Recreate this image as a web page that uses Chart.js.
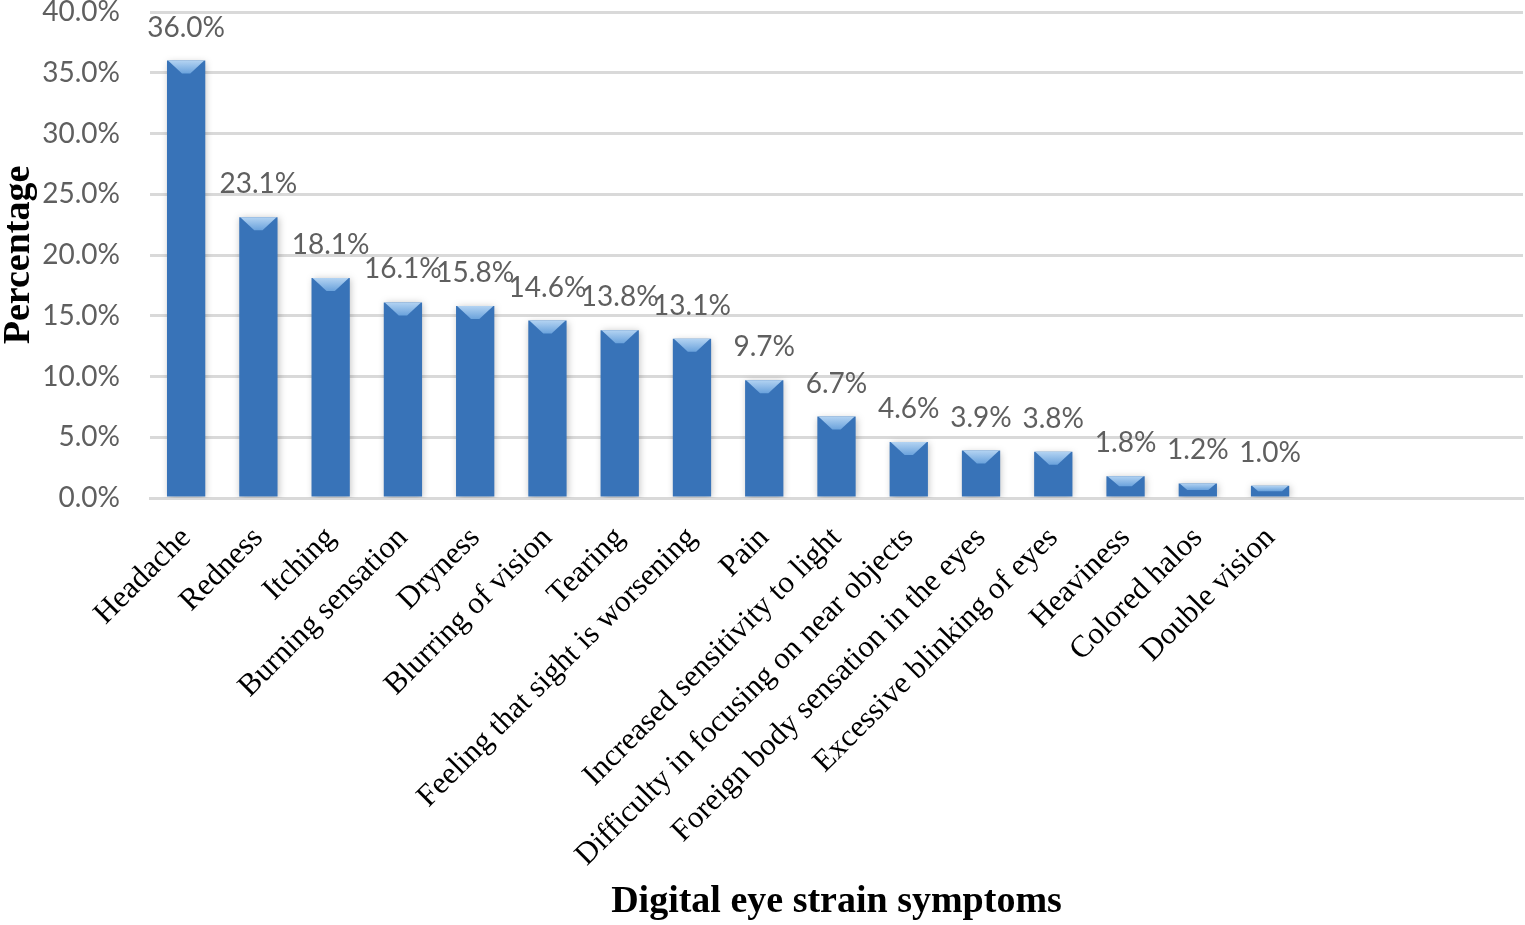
<!DOCTYPE html>
<html>
<head>
<meta charset="utf-8">
<script src="https://cdn.jsdelivr.net/npm/chart.js@4/dist/chart.umd.min.js"></script>
<style>
  html, body { margin: 0; padding: 0; background: #fff; }
  #wrap { width: 1525px; height: 925px; }
</style>
</head>
<body>
<div id="wrap"><canvas id="myChart" width="1525" height="925"></canvas></div>
<script>
"use strict";

// symptom names, with three empty slots at the end like the original sheet
const symptoms = [
  "Headache", "Redness", "Itching", "Burning sensation", "Dryness",
  "Blurring of vision", "Tearing", "Feeling that sight is worsening", "Pain",
  "Increased sensitivity to light", "Difficulty in focusing on near objects",
  "Foreign body sensation in the eyes", "Excessive blinking of eyes",
  "Heaviness", "Colored halos", "Double vision", "", "", ""
];
const percentages = [36.0, 23.1, 18.1, 16.1, 15.8, 14.6, 13.8, 13.1, 9.7, 6.7, 4.6, 3.9, 3.8, 1.8, 1.2, 1.0, null, null, null];
const yTicks = [0, 5, 10, 15, 20, 25, 30, 35, 40];

const ctx = document.getElementById("myChart");
const grey = "#5f5f5f";

// shade each bar sideways, soft shadow, and a light bevel on its top
const barLook = {
  id: "barLook",
  beforeDatasetsDraw(chart) {
    const c = chart.ctx;
    chart.getDatasetMeta(0).data.forEach((bar) => {
      if (bar.x == null || isNaN(bar.y)) return;
      const l = bar.x - bar.width / 2;
      const r = bar.x + bar.width / 2;
      const g = c.createLinearGradient(l, 0, r, 0);
      g.addColorStop(0, "#3873b8");
      g.addColorStop(0.3, "#3e80c8");
      g.addColorStop(0.7, "#2f6eb3");
      g.addColorStop(0.92, "#265fa1");
      g.addColorStop(1, "#1b4880");
      bar.options.backgroundColor = g;
    });
    c.save();
    c.shadowColor = "rgba(0,0,0,0.25)";
    c.shadowBlur = 7;
    c.shadowOffsetX = 1;
    c.shadowOffsetY = 1;
  },
  afterDatasetsDraw(chart) {
    const c = chart.ctx;
    c.restore();
    chart.getDatasetMeta(0).data.forEach((bar, i) => {
      if (percentages[i] == null) return;
      const l = bar.x - bar.width / 2;
      const r = bar.x + bar.width / 2;
      const h = bar.base - bar.y;
      const bev = Math.min(13, h / 2);
      const inset = Math.min(14, (bar.width / 2 - 4) * bev / 13);
      c.save();
      const g = c.createLinearGradient(0, bar.y, 0, bar.y + bev);
      g.addColorStop(0, "#b3d3f2");
      g.addColorStop(1, "#6aa2dc");
      c.fillStyle = g;
      c.beginPath();
      c.moveTo(l + 1, bar.y);
      c.lineTo(r - 1, bar.y);
      c.lineTo(r - 1 - inset, bar.y + bev);
      c.lineTo(l + 1 + inset, bar.y + bev);
      c.closePath();
      c.fill();
      c.restore();
    });
  },
};

// value labels above the bars
const valueLabels = {
  id: "valueLabels",
  afterDatasetsDraw(chart) {
    const c = chart.ctx;
    c.save();
    c.font = "28px Lato";
    c.fillStyle = grey;
    c.textAlign = "center";
    c.textBaseline = "middle";
    chart.getDatasetMeta(0).data.forEach((bar, i) => {
      if (percentages[i] == null) return;
      c.fillText(percentages[i].toFixed(1) + "%", bar.x, bar.y - 33);
    });
    c.restore();
  },
};

new Chart(ctx, {
  type: "bar",
  data: {
    labels: symptoms,
    datasets: [
      {
        label: "Percentage",
        data: percentages,
        backgroundColor: "#2e6db2",
        borderWidth: 0,
        barPercentage: 0.53,
        categoryPercentage: 1,
      },
    ],
  },
  plugins: [barLook, valueLabels],
  options: {
    responsive: false,
    animation: false,
    layout: { padding: { top: 12, right: 2, left: 0, bottom: 0 } },
    plugins: {
      legend: { display: false },
      tooltip: { enabled: false },
    },
    scales: {
      x: {
        grid: { display: false, drawTicks: false },
        border: { display: true, color: "#d9d9d9", width: 3 },
        ticks: {
          autoSkip: false,
          maxRotation: 45,
          minRotation: 45,
          padding: 22,
          color: "#000",
          font: { family: "Liberation Serif", size: 31 },
        },
        title: {
          display: true,
          text: "Digital eye strain symptoms",
          color: "#000",
          font: { family: "Liberation Serif", size: 38, weight: "bold", lineHeight: 1.1 },
          padding: { top: 0, bottom: 2 },
        },
        afterFit(scale) {
          scale.height = 427;
          scale.paddingLeft = 0;
          scale.paddingRight = 0;
        },
      },
      y: {
        min: 0,
        max: 40,
        afterBuildTicks(scale) {
          scale.ticks = yTicks.map((v) => ({ value: v }));
        },
        grid: { color: "#d9d9d9", lineWidth: 3, drawTicks: false },
        border: { display: false },
        ticks: {
          padding: 30,
          color: grey,
          font: { family: "Lato", size: 28 },
          callback: (v) => v.toFixed(1) + "%",
        },
        title: {
          display: true,
          text: "Percentage",
          color: "#000",
          font: { family: "Liberation Serif", size: 38, weight: "bold", lineHeight: 1 },
          padding: 0,
        },
        afterFit(scale) {
          scale.width = 150;
          scale.paddingTop = 0;
          scale.paddingBottom = 0;
        },
      },
    },
  },
});
</script>
</body>
</html>
